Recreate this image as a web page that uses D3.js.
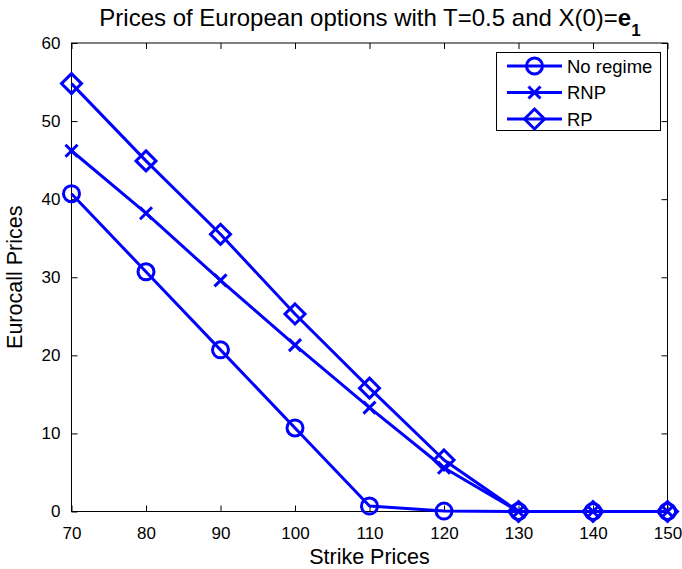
<!DOCTYPE html>
<html><head><meta charset="utf-8">
<script src="https://cdn.jsdelivr.net/npm/d3@7"></script>
<style>body{margin:0;background:#fff}svg{display:block}text{font-family:"Liberation Sans",Arial,sans-serif;fill:#000}</style>
</head><body>
<script>
const strikes = [70, 80, 90, 100, 110, 120, 130, 140, 150];
const noRegime = [40.7, 30.7, 20.7, 10.7, 0.7, 0.05, 0, 0, 0];
const rnp = [46.2, 38.2, 29.6, 21.3, 13.3, 5.6, 0, 0, 0];
const rp = [54.8, 44.9, 35.5, 25.3, 15.8, 6.6, 0, 0, 0];
const xTicks = [70, 80, 90, 100, 110, 120, 130, 140, 150];
const yTicks = [0, 10, 20, 30, 40, 50, 60];
const seriesNames = ["No regime", "RNP", "RP"];
const markers = ["circle", "x", "diamond"];

const W = 682, H = 569;
const L = 71.5, R = 667.5, T = 43, B = 511.5;
const svg = d3.select("body").append("svg").attr("width", W).attr("height", H);
const x = d3.scaleLinear().domain([70, 150]).range([L, R]);
const y = d3.scaleLinear().domain([0, 60]).range([B, T]);
const blue = "#0000ff";

svg.append("rect").attr("x", L).attr("y", T).attr("width", R - L).attr("height", B - T)
  .attr("fill", "none").attr("stroke", "#000").attr("stroke-width", 1);

const tickLen = 6;
const xb = d3.axisBottom(x).tickValues(xTicks).tickSize(-tickLen).tickPadding(15).tickFormat(d3.format("d"));
const xt = d3.axisTop(x).tickValues(xTicks).tickSize(-tickLen).tickFormat("");
const yl = d3.axisLeft(y).tickValues(yTicks).tickSize(-tickLen).tickPadding(11).tickFormat(d3.format("d"));
const yr = d3.axisRight(y).tickValues(yTicks).tickSize(-tickLen).tickFormat("");
function style(sel){ sel.select(".domain").remove(); sel.selectAll(".tick line").attr("stroke","#000");
  sel.selectAll("text").attr("font-size", 17).attr("font-family","Liberation Sans, Arial, sans-serif").attr("fill","#000"); }
svg.append("g").attr("transform", `translate(0,${B})`).call(xb).call(style);
svg.append("g").attr("transform", `translate(0,${T})`).call(xt).call(style);
svg.append("g").attr("transform", `translate(${L},0)`).call(yl).call(style);
svg.append("g").attr("transform", `translate(${R},0)`).call(yr).call(style);

function drawMarker(sel, type, cx, cy){
  if (type === "circle") {
    sel.append("circle").attr("cx", cx).attr("cy", cy).attr("r", 8)
      .attr("fill","none").attr("stroke",blue).attr("stroke-width",3);
  } else if (type === "x") {
    const s = 6;
    sel.append("path").attr("d", `M${cx-s},${cy-s}L${cx+s},${cy+s}M${cx-s},${cy+s}L${cx+s},${cy-s}`)
      .attr("stroke",blue).attr("stroke-width",3).attr("fill","none");
  } else {
    const s = 10;
    sel.append("path").attr("d", `M${cx},${cy-s}L${cx+s},${cy}L${cx},${cy+s}L${cx-s},${cy}Z`)
      .attr("fill","none").attr("stroke",blue).attr("stroke-width",3);
  }
}

const allSeries = [noRegime, rnp, rp];
const line = d3.line().x((d,i)=>x(strikes[i])).y(d=>y(d));
allSeries.forEach((vals, k) => {
  const sg = svg.append("g");
  sg.append("path").datum(vals).attr("d", line).attr("fill","none").attr("stroke",blue)
    .attr("stroke-width",3).attr("stroke-linejoin","round");
  vals.forEach((v,i)=>drawMarker(sg, markers[k], x(strikes[i]), y(v)));
});

// legend
const lg = svg.append("g");
lg.append("rect").attr("x", 496.5).attr("y", 52.5).attr("width", 164).attr("height", 78)
  .attr("fill","#fff").attr("stroke","#000").attr("stroke-width",1);
seriesNames.forEach((n,k)=>{
  const yy = 66 + k*26.5;
  lg.append("line").attr("x1",507).attr("x2",562).attr("y1",yy).attr("y2",yy)
    .attr("stroke",blue).attr("stroke-width",3);
  drawMarker(lg, markers[k], 534.5, yy);
  lg.append("text").attr("x",567).attr("y",yy+6.5).attr("font-size",18.5).text(n);
});

// title
const title = svg.append("text").attr("x", 370).attr("y", 26).attr("text-anchor","middle").attr("font-size",24);
title.append("tspan").text("Prices of European options with T=0.5 and X(0)=");
title.append("tspan").attr("font-weight","bold").text("e");
title.append("tspan").attr("font-weight","bold").attr("font-size",17).attr("dy",10).text("1");

svg.append("text").attr("x", (L+R)/2).attr("y", 564).attr("text-anchor","middle").attr("font-size",21.5).text("Strike Prices");
svg.append("text").attr("transform", `translate(22,${(T+B)/2}) rotate(-90)`).attr("text-anchor","middle").attr("font-size",21.5).text("Eurocall Prices");
</script>
</body></html>
